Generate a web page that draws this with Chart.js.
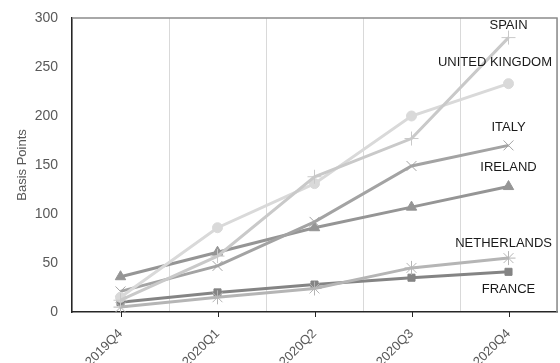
<!DOCTYPE html>
<html>
<head>
<meta charset="utf-8">
<script src="https://cdn.jsdelivr.net/npm/chart.js@4"></script>
<style>
  html, body { margin: 0; padding: 0; background: #fff; }
  #wrap { width: 560px; height: 363px; }
</style>
</head>
<body>
<div id="wrap"><canvas id="chart" width="560" height="363"></canvas></div>
<script>
const quarters = ['2019Q4', '2020Q1', '2020Q2', '2020Q3', '2020Q4'];
const spain = [12, 57, 138, 177, 280];
const unitedKingdom = [15, 86, 131, 200, 233];
const italy = [21, 47, 92, 149, 170];
const ireland = [36, 61, 86, 107, 128];
const netherlands = [5, 15, 24, 45, 55];
const france = [10, 20, 28, 35, 41];
const yTicks = [0, 50, 100, 150, 200, 250, 300];

function series(label, data, color, style) {
  const thin = style === 'crossRot' || style === 'cross' || style === 'star';
  return {
    label: label,
    data: data,
    borderColor: color,
    backgroundColor: color,
    borderWidth: 3,
    pointStyle: style,
    pointRadius: thin ? 7 : (style === 'triangle' ? 6 : 5),
    pointBorderWidth: 1,
    tension: 0
  };
}

// frame, x tick marks and the country names next to the last point
const endLabels = {
  id: 'endLabels',
  afterDatasetsDraw(chart) {
    const ctx = chart.ctx;
    const area = chart.chartArea;
    const x = chart.scales.x;
    ctx.save();
    ctx.strokeStyle = '#8c8c8c';
    ctx.lineWidth = 1.5;
    ctx.beginPath();
    ctx.moveTo(area.left, area.top);
    ctx.lineTo(area.right, area.top);
    ctx.lineTo(area.right, area.bottom);
    ctx.stroke();
    ctx.strokeStyle = '#262626';
    ctx.lineWidth = 1;
    quarters.forEach((q, i) => {
      const px = Math.round(x.getPixelForValue(i)) + 0.5;
      ctx.beginPath();
      ctx.moveTo(px, area.bottom);
      ctx.lineTo(px, area.bottom + 5);
      ctx.stroke();
    });
    ctx.font = '13px "Liberation Sans", sans-serif';
    ctx.fillStyle = '#1a1a1a';
    ctx.textAlign = 'center';
    ctx.textBaseline = 'middle';
    chart.data.datasets.forEach((ds, i) => {
      const meta = chart.getDatasetMeta(i);
      const pt = meta.data[meta.data.length - 1];
      const w = ctx.measureText(ds.label).width;
      let cx = pt.x;
      if (cx + w / 2 > chart.width - 8) cx = chart.width - 8 - w / 2;
      const cy = pt.y + (ds.labelOffset || -20);
      ctx.fillText(ds.label, cx, cy);
    });
    ctx.restore();
  }
};

const datasets = [
  series('SPAIN', spain, '#c9c9c9', 'cross'),
  series('UNITED KINGDOM', unitedKingdom, '#d9d9d9', 'circle'),
  series('ITALY', italy, '#a3a3a3', 'crossRot'),
  series('IRELAND', ireland, '#959595', 'triangle'),
  series('NETHERLANDS', netherlands, '#b5b5b5', 'star'),
  series('FRANCE', france, '#848484', 'rect')
];
datasets[0].labelOffset = -12;
datasets[1].labelOffset = -21;
datasets[2].labelOffset = -18;
datasets[3].labelOffset = -19;
datasets[4].labelOffset = -15;
datasets[5].labelOffset = 18;

new Chart(document.getElementById('chart').getContext('2d'), {
  type: 'line',
  data: { labels: quarters, datasets: datasets },
  options: {
    responsive: false,
    animation: false,
    layout: { autoPadding: false, padding: { top: 18, right: 3, left: 0, bottom: 0 } },
    plugins: {
      legend: { display: false },
      tooltip: { enabled: false }
    },
    scales: {
      x: {
        offset: true,
        afterFit: (axis) => { axis.height = 51; axis.paddingRight = 0; axis.paddingLeft = 0; },
        grid: { offset: true, color: '#d9d9d9', lineWidth: 1, drawTicks: false },
        border: { color: '#262626', width: 1.5 },
        ticks: {
          color: '#595959',
          font: { family: 'Liberation Sans', size: 13 },
          minRotation: 45,
          maxRotation: 45,
          padding: 14
        }
      },
      y: {
        min: 0,
        max: 300,
        afterFit: (axis) => { axis.width = 72; axis.paddingTop = 0; },
        afterBuildTicks: (axis) => { axis.ticks = yTicks.map(v => ({ value: v })); },
        grid: { display: false, drawTicks: false },
        border: { color: '#262626', width: 1.5 },
        title: {
          display: true,
          text: 'Basis Points',
          color: '#595959',
          font: { family: 'Liberation Sans', size: 13 },
          padding: { top: 15, bottom: 0 }
        },
        ticks: {
          color: '#595959',
          font: { family: 'Liberation Sans', size: 14 },
          padding: 14
        }
      }
    }
  },
  plugins: [endLabels]
});
</script>
</body>
</html>
